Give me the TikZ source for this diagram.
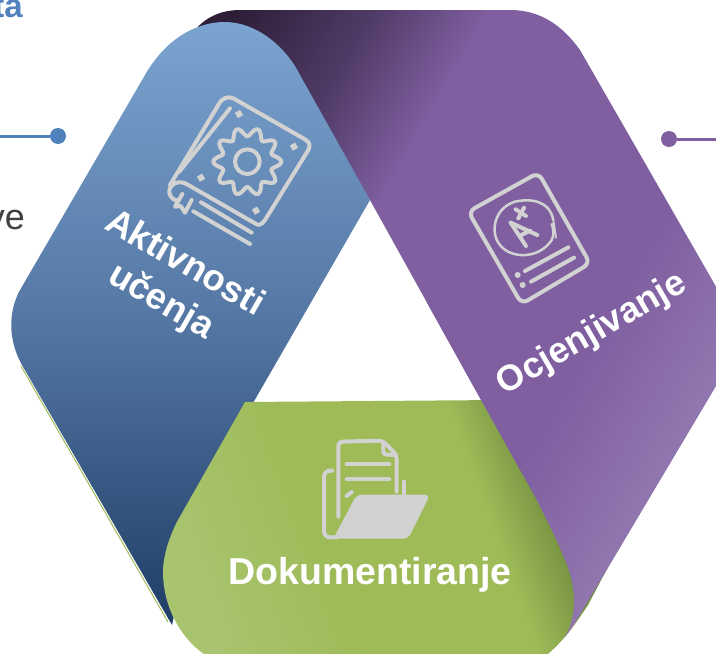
\documentclass[tikz,border=0pt]{standalone}
\usepackage{fontspec}
\setmainfont{Liberation Sans}
\definecolor{purpledark}{HTML}{2E1E38}
\definecolor{purplemid}{HTML}{4F3A66}
\definecolor{purplemain}{HTML}{7F5FA0}
\definecolor{purplelight}{HTML}{9278B0}
\definecolor{bluetop}{HTML}{7BA4D0}
\definecolor{bluemid}{HTML}{5476A3}
\definecolor{bluebot}{HTML}{1F3E66}
\definecolor{greenlight}{HTML}{A8C46E}
\definecolor{greenmain}{HTML}{9EBB58}
\definecolor{greendark}{HTML}{6F8B3E}
\definecolor{icongray}{HTML}{D2D2D2}
\definecolor{dotblue}{HTML}{4F81BD}
\definecolor{darktext}{HTML}{404040}
\pgfdeclarehorizontalshading{purpleband}{100bp}{color(0bp)=(purpledark); color(19bp)=(purpledark); color(29bp)=(purplemid); color(38bp)=(purplemain); color(60bp)=(purplemain); color(72bp)=(purplelight); color(100bp)=(purplelight)}
\pgfdeclarehorizontalshading{greenband}{100bp}{color(0bp)=(greenlight); color(25bp)=(greenlight); color(42bp)=(greenmain); color(62bp)=(greenmain); color(71bp)=(greendark); color(100bp)=(greendark)}
\newcommand{\purplepath}{(195,30) .. controls (205,18) and (220,10) .. (240,10) -- (510,10) .. controls (540,10) and (562,25) .. (580,50) -- (745,337) -- (575,623) -- (565,637) .. controls (576,618) and (578,590) .. (565,560) .. controls (555,535) and (535,495) .. (520,470) -- (370,200) -- (300,100) -- (220,60) -- cycle}

\begin{document}
\begin{tikzpicture}[x=1pt,y=-1pt,
  label text/.style={text=white,font=\bfseries,align=center,inner sep=0pt},
  icon line/.style={draw=icongray,line width=4pt,line cap=round,line join=round},
  icon dot/.style={fill=icongray,rotate=30,minimum size=6pt,inner sep=0pt}]
  \useasboundingbox (0,0) rectangle (716,654);
  \clip (0,0) rectangle (716,654);

  \shade[shading=purpleband,shading angle=-30] \purplepath;
  \draw[greenmain,line width=1pt] (21,366) -- (168,622);
  \shade[top color=bluetop,bottom color=bluebot,middle color=bluemid] (145,75) .. controls (165,40) and (195,22) .. (225,22) .. controls (255,22) and (285,45) .. (300,75) -- (370,200) -- (200,495) -- (172,625) -- (22,365) .. controls (8,340) and (8,312) .. (20,290) -- cycle;
  \shade[shading=greenband,shading angle=20] (245,402) -- (500,400) -- (619,546) -- (588,605) .. controls (578,620) and (562,645) .. (540,660) -- (215,660) .. controls (190,650) and (163,615) .. (163,572) .. controls (163,555) and (170,535) .. (178,520) -- cycle;
  \begin{scope}
    \clip (400,300) rectangle (716,654);
    \shade[shading=purpleband,shading angle=-30] \purplepath;
  \end{scope}

  \node[text=dotblue,font=\bfseries\fontsize{33}{35}\selectfont,anchor=base east,inner sep=0pt] (title) at (23,17) {ta};
  \node[text=darktext,font=\fontsize{36}{38}\selectfont,anchor=base east,inner sep=0pt] (body) at (25,229) {ve};
  \node[circle,fill=dotblue,minimum size=16pt,inner sep=0pt] (dot1) at (58,136) {};
  \node[circle,fill=purplemain,minimum size=16pt,inner sep=0pt] (dot2) at (669,139) {};
  \coordinate (end1) at (0,136);
  \coordinate (end2) at (716,139);
  \draw[dotblue,line width=3pt] (end1) -- (dot1);
  \draw[purplemain,line width=3pt] (dot2) -- (end2);

  \node[label text,font=\bfseries\fontsize{37.5}{40}\selectfont] (dok) at (370,575) {Dokumentiranje};
  \node[label text,font=\bfseries\fontsize{36}{40}\selectfont,rotate=30] (ocj) at (592,334) {Ocjenjivanje};
  \node[label text,font=\bfseries\fontsize{36.5}{40}\selectfont,rotate=-30] (akt) at (186,261) {Aktivnosti};
  \node[label text,font=\bfseries\fontsize{36.5}{40}\selectfont,rotate=-30] (uce) at (161,302) {učenja};

  \begin{scope}[shift={(150,70)},scale=1/3]
    \draw[icon line] (60,345) -- (205,105) .. controls (215,85) and (232,77) .. (250,85) -- (465,208) .. controls (480,217) and (482,228) .. (475,240) -- (345,450) .. controls (335,465) and (325,468) .. (315,460) -- (115,345) .. controls (85,325) and (55,345) .. (58,368) .. controls (60,382) and (72,392) .. (85,392);
    \draw[icon line] (240,115) -- (88,305);
    \draw[icon line] (153,397) -- (305,488);
    \draw[icon line] (130,424) -- (300,522);
    \draw[icon line] (97,372) -- (75,410) -- (92,408) -- (105,428) -- (125,390);
    \draw[icon line] plot[domain=0:360,samples=121,smooth] ({292+(89+13*cos(10*\x))*cos(\x)},{275+(89+13*cos(10*\x))*sin(\x)}) -- cycle;
    \draw[icon line] (292,275) circle (37);
    \node[icon dot] (sq1) at (267,132) {};
    \node[icon dot] (sq2) at (432,230) {};
    \node[icon dot] (sq3) at (318,422) {};
    \node[icon dot] (sq4) at (153,323) {};
  \end{scope}

  \begin{scope}[shift={(450,160)},scale=1/3]
    \draw[icon line,rounded corners=7pt] (55,155) -- (265,38) -- (420,310) -- (215,432) -- cycle;
    \draw[icongray,line width=2.5pt] (310,180) .. controls (298,120) and (240,115) .. (195,125) .. controls (130,145) and (120,220) .. (150,255) .. controls (185,300) and (270,295) .. (305,240) .. controls (312,225) and (312,215) .. (305,190);
    \draw[icongray,line width=2pt] (310,180) -- (318,235);
    \draw[icon line] (182,188) -- (262,225);
    \draw[icon line] (182,188) -- (228,258);
    \draw[icon line] (208,228) -- (240,212);
    \draw[icon line] (197,148) -- (228,168);
    \draw[icon line] (222,143) -- (205,175);
    \draw[icon line] (225,333) -- (355,262);
    \draw[icon line] (243,365) -- (372,293);
    \node[circle,fill=icongray,minimum size=6pt,inner sep=0pt] (bul1) at (203,345) {};
    \node[circle,fill=icongray,minimum size=6pt,inner sep=0pt] (bul2) at (218,375) {};
  \end{scope}

  \begin{scope}[shift={(300,420)},scale=1/3]
    \draw[icon line,rounded corners=4pt] (115,290) -- (115,65) -- (248,62) -- (290,105) -- (290,215);
    \draw[icon line,rounded corners=2pt] (250,68) -- (250,103) -- (288,105);
    \draw[icon line] (140,133) -- (268,133);
    \draw[icon line] (140,178) -- (268,178);
    \draw[icon line] (140,228) -- (155,216);
    \draw[icon line] (312,185) -- (312,225);
    \draw[icon line,rounded corners=6pt] (97,152) -- (72,152) -- (72,352) -- (110,352);
    \fill[icongray,rounded corners=5pt] (170,224) -- (390,224) -- (325,356) -- (100,356) -- cycle;
  \end{scope}
\end{tikzpicture}
\end{document}
